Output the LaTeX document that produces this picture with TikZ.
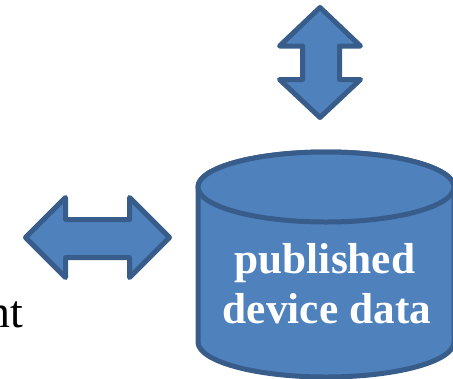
\documentclass[tikz,border=0pt]{standalone}
\usepackage{fontspec}
\setmainfont{Liberation Serif}
\definecolor{shapefill}{HTML}{4F81BD}
\definecolor{shapeline}{HTML}{385D8A}
\begin{document}
\begin{tikzpicture}[x=1bp,y=1bp,
  solid shape/.style={fill=shapefill,draw=shapeline,line width=5bp,line join=round},
  dblabel/.style={text=white,font=\fontsize{43.5}{50}\selectfont\bfseries,inner sep=0pt,anchor=base},
  sidelabel/.style={text=black,font=\fontsize{46}{52}\selectfont,inner sep=0pt,anchor=base east}]
\useasboundingbox (0,0) rectangle (453,378);
\clip (0,0) rectangle (453,378);

% database cylinder
\path[solid shape] (198,191) -- (198,36)
  arc[start angle=180,end angle=360,x radius=128,y radius=35]
  -- (454,191)
  arc[start angle=0,end angle=180,x radius=128,y radius=35] -- cycle;
\path[solid shape] (326,191) ellipse[x radius=128,y radius=35];
\node[dblabel] (pub) at (325,105) {published};
\node[dblabel] (dev) at (327,55) {device data};

% vertical double arrow above the store
\path[solid shape] (320,370.5) -- (360.5,332) -- (339.5,332) -- (339.5,298.5)
  -- (360.5,298.5) -- (320,260.5) -- (279.5,298.5) -- (302.5,298.5)
  -- (302.5,332) -- (279.5,332) -- cycle;

% horizontal double arrow to the left of the store
\path[solid shape] (25.5,140.5) -- (65.5,180.5) -- (65.5,158.5) -- (129.5,158.5)
  -- (129.5,180.5) -- (169.5,140.5) -- (129.5,100.5) -- (129.5,120.5)
  -- (65.5,120.5) -- (65.5,100.5) -- cycle;

% end of the side caption
\node[sidelabel] (cap) at (23,51) {nt};
\end{tikzpicture}
\end{document}
